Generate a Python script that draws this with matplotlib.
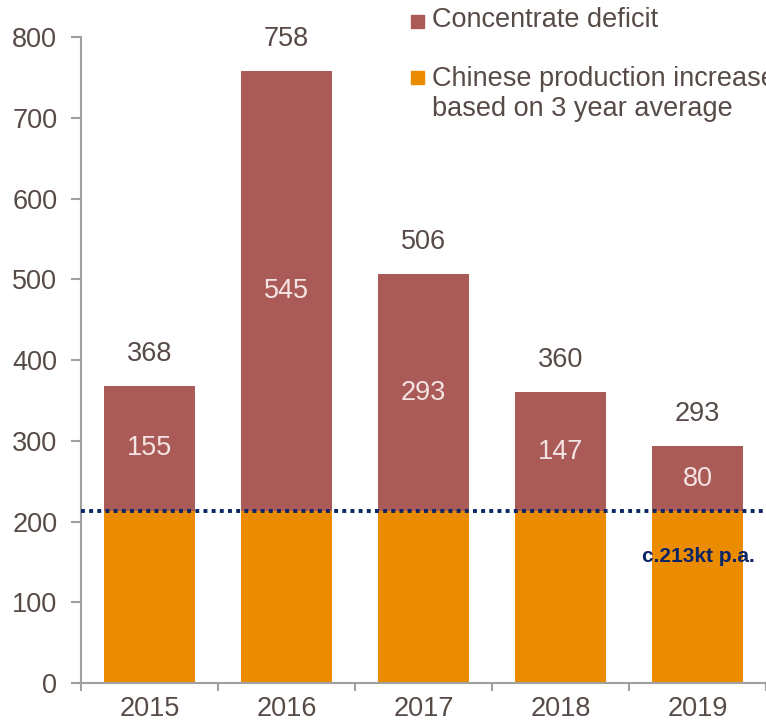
import matplotlib.pyplot as plt
from matplotlib.patches import Rectangle

years = ["2015", "2016", "2017", "2018", "2019"]
chinese_increase = [213, 213, 213, 213, 213]
deficit = [155, 545, 293, 147, 80]
totals = [368, 758, 506, 360, 293]
avg_line = 213

BROWN = "#AB5B57"
ORANGE = "#EB8C00"
NAVY = "#0A2466"
TEXT = "#574B47"
AXIS = "#A0A0A0"
FS = 19.5

plt.rcParams["font.family"] = ["Liberation Sans", "DejaVu Sans"]

fig = plt.figure(figsize=(7.66, 7.24), dpi=100)
ax = fig.add_axes([0.1057, 0.0566, 0.8943, 0.8923])

x = range(len(years))
ax.bar(x, chinese_increase, width=0.667, color=ORANGE, zorder=2)
ax.bar(x, deficit, width=0.667, bottom=chinese_increase, color=BROWN, zorder=2)

# labels: totals above, deficit in the middle of the brown part
for i in x:
    ax.text(i, totals[i] + 40, str(totals[i]), ha="center", va="center",
            fontsize=FS, color=TEXT)
    ax.text(i, chinese_increase[i] + deficit[i] / 2, str(deficit[i]),
            ha="center", va="center", fontsize=FS, color="#F3E3E2")

ax.axhline(avg_line, color=NAVY, linestyle=(0, (1, 1.1)), linewidth=2.8,
           zorder=3, clip_on=False)
ax.text(4.42, 157, "c.213kt p.a.", ha="right", va="center", fontsize=15,
        fontweight="bold", color=NAVY)

ax.set_xlim(-0.5, 4.46)
ax.set_ylim(0, 800)
ax.set_yticks(range(0, 801, 100))
ax.set_xticks([i - 0.5 for i in range(6)], minor=False)
ax.set_xticklabels([])
ax.set_xticks(list(x), minor=True)
ax.set_xticklabels(years, minor=True)
ax.tick_params(axis="x", which="minor", length=0, pad=9, labelsize=FS,
               labelcolor=TEXT)
ax.tick_params(axis="x", which="major", length=6, width=1.5, color=AXIS,
               direction="out")
ax.tick_params(axis="y", length=7, width=1.5, color=AXIS, pad=10,
               labelsize=FS, labelcolor=TEXT)

for s in ["top", "right"]:
    ax.spines[s].set_visible(False)
for s in ["left", "bottom"]:
    ax.spines[s].set_color(AXIS)
    ax.spines[s].set_linewidth(1.5)

# legend drawn by hand
W, H = 766, 724
def sq(px, py, color):
    fig.patches.append(Rectangle((px / W, 1 - (py + 13) / H), 13 / W, 13 / H,
                                 transform=fig.transFigure, color=color))

sq(411, 15, BROWN)
fig.text(432 / W, 1 - 20 / H, "Concentrate deficit", ha="left", va="center",
         fontsize=FS, color=TEXT)
sq(411, 71, ORANGE)
fig.text(432 / W, 1 - 79 / H, "Chinese production increase", ha="left",
         va="center", fontsize=FS, color=TEXT)
fig.text(432 / W, 1 - 109 / H, "based on 3 year average", ha="left",
         va="center", fontsize=FS, color=TEXT)

plt.savefig("out.png", dpi=100)
